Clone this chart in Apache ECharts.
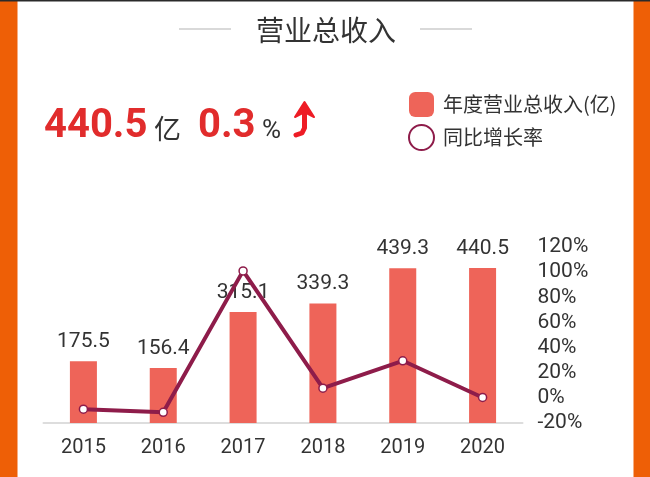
<!DOCTYPE html>
<html>
<head>
<meta charset="utf-8">
<style>
	html, body { margin: 0; padding: 0; background: #fff; }
	#chart { width: 650px; height: 477px; }
</style>
<script src="https://cdn.jsdelivr.net/npm/echarts@6/dist/echarts.min.js"></script>
</head>
<body>
<div id="chart"></div>
<script>
const years = ['2015', '2016', '2017', '2018', '2019', '2020'];
const revenue = [175.5, 156.4, 315.1, 339.3, 439.3, 440.5];
const growth = [-9, -11.5, 101, 7.7, 29.5, 0.3];
const rateTicks = [-20, 0, 20, 40, 60, 80, 100, 120];

const barName = '年度营业总收入(亿)';
const lineName = '同比增长率';
const latin = 'Roboto, sans-serif';
const cjk = '"Noto Sans CJK SC", sans-serif';

var chart = echarts.init(document.getElementById('chart'));

function label(x, y, text, size, color, weight, font) {
	return {
		type: 'text',
		x: x,
		y: y,
		style: {
			text: text,
			fontSize: size,
			fontFamily: font,
			fontWeight: weight || 'normal',
			fill: color,
			textVerticalAlign: 'middle'
		}
	};
}

let options = {
	backgroundColor: '#fff',
	animation: false,
	grid: { left: 43.5, top: 247, width: 479, height: 176 },
	legend: {
		orient: 'vertical',
		left: 403,
		top: 87,
		itemWidth: 25,
		itemHeight: 25,
		itemGap: 7,
		textStyle: { fontSize: 20, fontFamily: cjk, color: '#333', padding: [0, 0, 0, 4] },
		data: [
			{ name: barName, icon: 'roundRect' },
			{ name: lineName, icon: 'circle', itemStyle: { color: '#fff', borderColor: '#8e1c4a', borderWidth: 2 } }
		]
	},
	xAxis: {
		type: 'category',
		data: years,
		axisTick: { show: false },
		axisLine: { lineStyle: { color: '#ddd', width: 2 } },
		axisLabel: { color: '#333', fontSize: 20, fontFamily: latin, margin: 15 }
	},
	yAxis: [
		{ type: 'value', min: 0, max: 500, show: false },
		{
			type: 'value',
			position: 'right',
			min: rateTicks[0],
			max: rateTicks[rateTicks.length - 1],
			interval: 20,
			splitLine: { show: false },
			axisLine: { show: false },
			axisTick: { show: false },
			axisLabel: { formatter: '{value}%', color: '#333', fontSize: 21, fontFamily: latin, margin: 15 }
		}
	],
	series: [
		{
			name: barName,
			type: 'bar',
			barWidth: 27,
			itemStyle: { color: '#ee6459' },
			label: { show: true, position: 'top', distance: 9, color: '#333', fontSize: 21, fontFamily: latin },
			data: revenue
		},
		{
			name: lineName,
			type: 'line',
			yAxisIndex: 1,
			symbol: 'circle',
			symbolSize: 8,
			lineStyle: { color: '#8e1c4a', width: 4 },
			itemStyle: { color: '#fff', borderColor: '#8e1c4a', borderWidth: 1.5 },
			z: 5,
			data: growth
		}
	],
	graphic: [
		{ type: 'rect', shape: { x: 0, y: 0, width: 17.5, height: 477 }, style: { fill: '#ee5f06' } },
		{ type: 'rect', shape: { x: 633.5, y: 0, width: 16.5, height: 477 }, style: { fill: '#ee5f06' } },
		{ type: 'rect', shape: { x: 0, y: 0, width: 650, height: 1.5 }, style: { fill: '#2a2a2a' } },
		{ type: 'line', shape: { x1: 179, y1: 29, x2: 231, y2: 29 }, style: { stroke: '#ccc', lineWidth: 1.5 } },
		{ type: 'line', shape: { x1: 420, y1: 29, x2: 472, y2: 29 }, style: { stroke: '#ccc', lineWidth: 1.5 } },
		label(256, 30, '营业总收入', 28, '#333', 'normal', cjk),
		label(44, 127, '440.5', 40, '#e12c2c', 'bold', latin),
		label(154, 129, '亿', 27, '#333', 'normal', cjk),
		label(198, 127, '0.3', 40, '#e12c2c', 'bold', latin),
		label(262, 131, '%', 26, '#333', 'normal', latin),
		{
			type: 'polyline',
			shape: { points: [[296, 135], [302, 133], [304.5, 128], [304.5, 108]] },
			style: { stroke: '#ee1c25', lineWidth: 5, fill: null, lineCap: 'round', lineJoin: 'round' }
		},
		{
			type: 'polygon',
			shape: { points: [[304.5, 102], [295, 117], [304.5, 112], [314, 117]] },
			style: { fill: '#ee1c25', stroke: '#ee1c25', lineWidth: 2, lineJoin: 'round' }
		}
	]
};

chart.setOption(options);
</script>
</body>
</html>
